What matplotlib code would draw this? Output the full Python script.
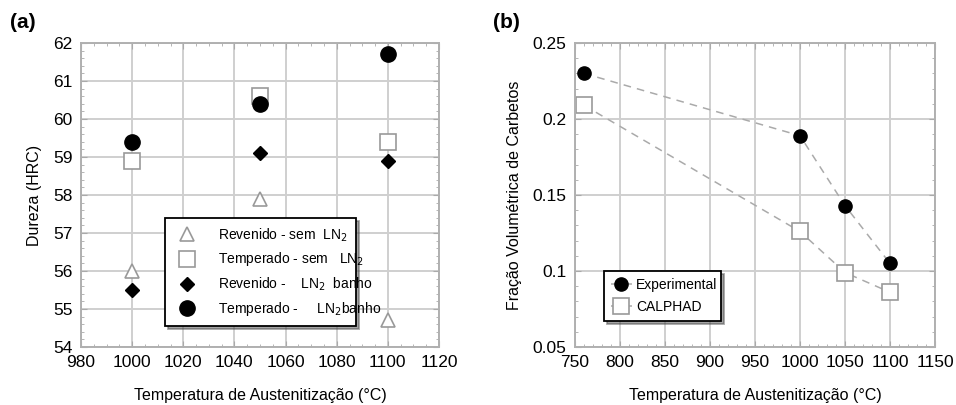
import matplotlib
matplotlib.use("Agg")
import matplotlib.pyplot as plt
from matplotlib.ticker import MultipleLocator, AutoMinorLocator, FuncFormatter

plt.rcParams['font.family'] = ['Liberation Sans', 'DejaVu Sans']

# Panel (a) data
temp_a = [1000, 1050, 1100]
rev_sem = [56.0, 57.9, 54.7]
temp_sem = [58.9, 60.6, 59.4]
rev_ln2 = [55.5, 59.1, 58.9]
temp_ln2 = [59.4, 60.4, 61.7]
labels_a = ["Revenido - sem  LN$_2$", "Temperado - sem   LN$_2$",
            "Revenido -    LN$_2$  banho", "Temperado -     LN$_2$banho"]

# Panel (b) data
temp_b = [760, 1000, 1050, 1100]
experimental = [0.230, 0.189, 0.143, 0.105]
calphad = [0.209, 0.126, 0.099, 0.086]
labels_b = ["Experimental", "CALPHAD"]

xlabel = "Temperatura de Austenitização (°C)"

fig = plt.figure(figsize=(9.56, 4.05), dpi=100)
W, H = 956, 405
axa = fig.add_axes([81 / W, 1 - 347 / H, (439 - 81) / W, (347 - 43) / H])
axb = fig.add_axes([575 / W, 1 - 347 / H, (935 - 575) / W, (347 - 43) / H])

gray = '#999999'
grid_c = '#cfcfcf'

def style(ax):
    ax.grid(True, which='major', color=grid_c, linewidth=1.4)
    ax.set_axisbelow(True)
    for s in ax.spines.values():
        s.set_color('#b0b0b0')
        s.set_linewidth(1.4)
    ax.tick_params(which='both', direction='in', top=True, right=True, color='#aaaaaa')
    ax.tick_params(which='major', length=4, labelsize=12.5, pad=6)
    ax.tick_params(which='minor', length=2)

# Panel (a)
axa.plot(temp_a, rev_sem, linestyle='none', marker='^', ms=10, mfc='white', mec=gray, mew=1.2, label=labels_a[0])
axa.plot(temp_a, temp_sem, linestyle='none', marker='s', ms=11, mfc='white', mec=gray, mew=1.2, label=labels_a[1])
axa.plot(temp_a, rev_ln2, linestyle='none', marker='D', ms=7, mfc='black', mec='black', label=labels_a[2])
axa.plot(temp_a, temp_ln2, linestyle='none', marker='o', ms=11, mfc='black', mec='black', label=labels_a[3])
axa.set_xlim(980, 1120)
axa.set_ylim(54, 62)
axa.xaxis.set_major_locator(MultipleLocator(20))
axa.yaxis.set_major_locator(MultipleLocator(1))
axa.xaxis.set_minor_locator(AutoMinorLocator(4))
axa.yaxis.set_minor_locator(AutoMinorLocator(5))
style(axa)
axa.set_ylabel("Dureza (HRC)", fontsize=11.5, labelpad=8)
axa.set_xlabel(xlabel, fontsize=11.5, labelpad=13)
lega = axa.legend(loc='lower left', bbox_to_anchor=(0.215, 0.046, 0.573, 0.314), mode='expand',
                  fontsize=10, frameon=True, fancybox=False, shadow=True, borderpad=0.6,
                  labelspacing=0.5, handletextpad=1.2)
lega.get_frame().set_edgecolor('black')
lega.get_frame().set_linewidth(1.3)
fig.text(10 / W, 1 - 22 / H, "(a)", fontsize=15, fontweight='bold', va='center', ha='left')

# Panel (b)
axb.plot(temp_b, experimental, linestyle=(0, (5, 4)), color='#aaaaaa', lw=1.1, marker='o', ms=9.5,
         mfc='black', mec='black', label=labels_b[0])
axb.plot(temp_b, calphad, linestyle=(0, (5, 4)), color='#aaaaaa', lw=1.1, marker='s', ms=11,
         mfc='white', mec=gray, mew=1.2, label=labels_b[1])
axb.set_xlim(750, 1150)
axb.set_ylim(0.05, 0.25)
axb.xaxis.set_major_locator(MultipleLocator(50))
axb.yaxis.set_major_locator(MultipleLocator(0.05))
axb.xaxis.set_minor_locator(AutoMinorLocator(5))
axb.yaxis.set_minor_locator(AutoMinorLocator(5))
axb.yaxis.set_major_formatter(FuncFormatter(lambda v, p: f"{v:g}"))
style(axb)
axb.set_ylabel("Fração Volumétrica de Carbetos", fontsize=11.5, labelpad=8)
axb.set_xlabel(xlabel, fontsize=11.5, labelpad=13)
legb = axb.legend(loc='lower left', bbox_to_anchor=(0.061, 0.0625, 0.364, 0.16), mode='expand',
                  fontsize=10, frameon=True, fancybox=False, shadow=True, borderpad=0.5,
                  labelspacing=0.6, handlelength=1.5, handletextpad=0.3)
legb.get_frame().set_edgecolor('black')
legb.get_frame().set_linewidth(1.3)
fig.text(493 / W, 1 - 22 / H, "(b)", fontsize=15, fontweight='bold', va='center', ha='left')

fig.savefig("out.png", dpi=100)
